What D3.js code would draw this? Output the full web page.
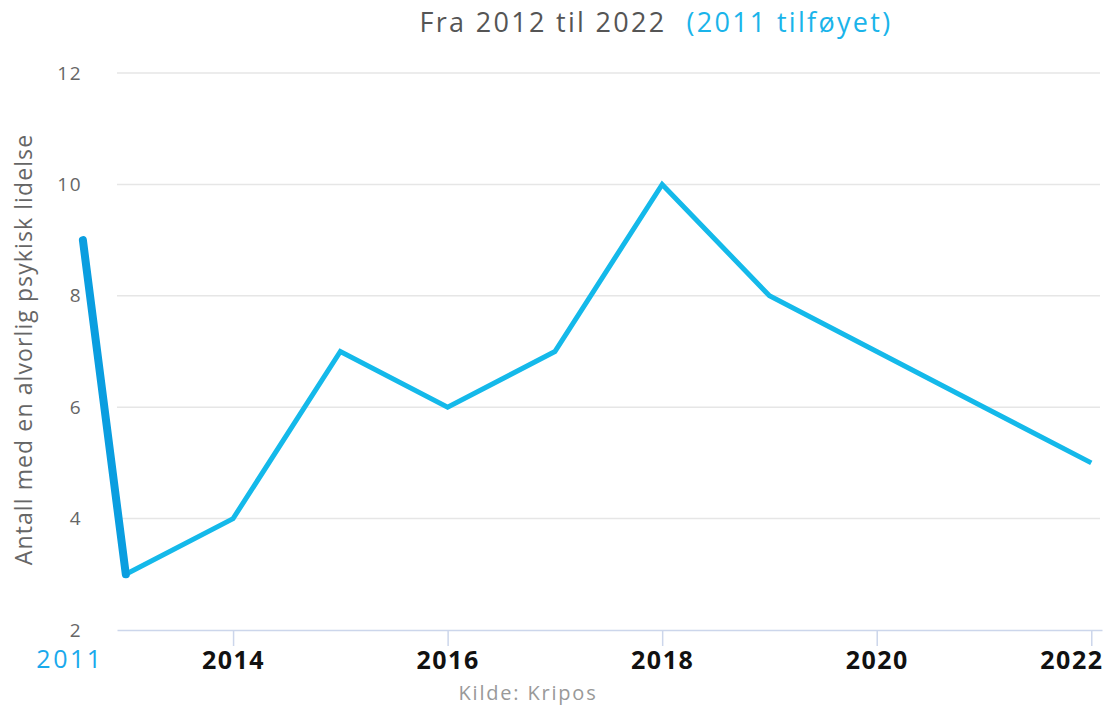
<!DOCTYPE html>
<html lang="no">
<head>
<meta charset="UTF-8">
<title>Psykisk lidelse</title>
<script src="https://cdn.jsdelivr.net/npm/d3@7"></script>
<style>
  body { margin: 0; background: #fff; }
  svg { display: block; font-family: "Open Sans", "Noto Sans", sans-serif; }
</style>
</head>
<body>
<svg class="chart"></svg>
<script>
const W = 1106, H = 708

// data
const years = [2013, 2014, 2015, 2016, 2017, 2018, 2019, 2020, 2021, 2022]
const values = [3, 4, 7, 6, 7, 10, 8, 7, 6, 5]
const yTicks = [2, 4, 6, 8, 10, 12]
const xTicks = [2014, 2016, 2018, 2020, 2022]
// the added 2011 point, drawn left of the plot (its display position on the year scale)
const added = { label: "2011", value: 9, pos: 2012.6 }
const labelPos2011 = 2012.47

const margin = { top: 73, right: 4, bottom: 78, left: 117 }

const svg = d3.select(".chart").attr("width", W).attr("height", H)

const x = d3.scaleLinear().domain([2012.918, 2022.1]).range([margin.left, W - margin.right])
const y = d3.scaleLinear().domain([2, 12]).range([H - margin.bottom, margin.top])

// title
const title = svg.append("text").attr("x", 656).attr("y", 32).attr("text-anchor", "middle")
  .style("font-size", "27px").style("letter-spacing", "2.3px")
title.append("tspan").attr("fill", "#555").text("Fra 2012 til 2022")
title.append("tspan").attr("fill", "#1ab4ea").attr("dx", 20).text("(2011 tilføyet)")

// grid
svg.append("g").selectAll("line").data(yTicks.filter(d => d > 2)).join("line")
  .attr("x1", margin.left).attr("x2", W - margin.right - 2)
  .attr("y1", d => y(d)).attr("y2", d => y(d))
  .attr("stroke", "#e6e6e6").attr("stroke-width", 1.5)

// y labels
svg.append("g").selectAll("text").data(yTicks).join("text")
  .attr("x", 82).attr("y", d => y(d)).attr("dy", "0.35em")
  .attr("text-anchor", "end").attr("fill", "#666")
  .style("font-size", "19px").style("letter-spacing", "1.5px")
  .text(d => d)

// y title
svg.append("text")
  .attr("transform", `translate(32, ${y(7) - 2}) rotate(-90)`)
  .attr("text-anchor", "middle").attr("fill", "#666")
  .style("font-size", "23px").style("letter-spacing", "1.1px")
  .text("Antall med en alvorlig psykisk lidelse")

// x axis
const xAxis = svg.append("g").attr("transform", `translate(0, ${y(2)})`)
  .call(d3.axisBottom(x).tickValues(xTicks).tickFormat(d3.format("d"))
    .tickSize(16).tickSizeOuter(0).tickPadding(5))
xAxis.select(".domain").attr("stroke", "#ccd6eb").attr("stroke-width", 1.5)
xAxis.selectAll(".tick line").attr("stroke", "#ccd6eb").attr("stroke-width", 1.5)
xAxis.selectAll(".tick text").attr("fill", "#111")
  .style("font-size", "25px").style("font-weight", "bold").style("letter-spacing", "1.5px")
  .style("font-family", "\"Open Sans\", sans-serif")
  .attr("dy", "0.72em")
// keep the last label inside the plot edge
xAxis.selectAll(".tick").filter(d => d === xTicks[xTicks.length - 1]).select("text")
  .attr("text-anchor", "end").attr("x", x.range()[1] - x(xTicks[xTicks.length - 1]) + 1)

svg.append("text").attr("x", x(labelPos2011) + 1).attr("y", 668).attr("text-anchor", "middle")
  .attr("fill", "#1aa9ec").style("font-size", "25px").style("letter-spacing", "2.5px")
  .text(added.label)

// source
svg.append("text").attr("x", 528).attr("y", 700).attr("text-anchor", "middle")
  .attr("fill", "#999").style("font-size", "20px").style("letter-spacing", "1.8px")
  .text("Kilde: Kripos")

// main line
const line = d3.line().x(d => x(d[0])).y(d => y(d[1]))
svg.append("path").datum(d3.zip(years, values))
  .attr("d", line).attr("fill", "none")
  .attr("stroke", "#14b9ea").attr("stroke-width", 5).attr("stroke-linejoin", "miter")

// added 2011 segment
svg.append("path").datum([[added.pos, added.value], [years[0], values[0]]])
  .attr("d", line).attr("fill", "none")
  .attr("stroke", "#0a9ee0").attr("stroke-width", 8).attr("stroke-linecap", "round")
</script>
</body>
</html>
